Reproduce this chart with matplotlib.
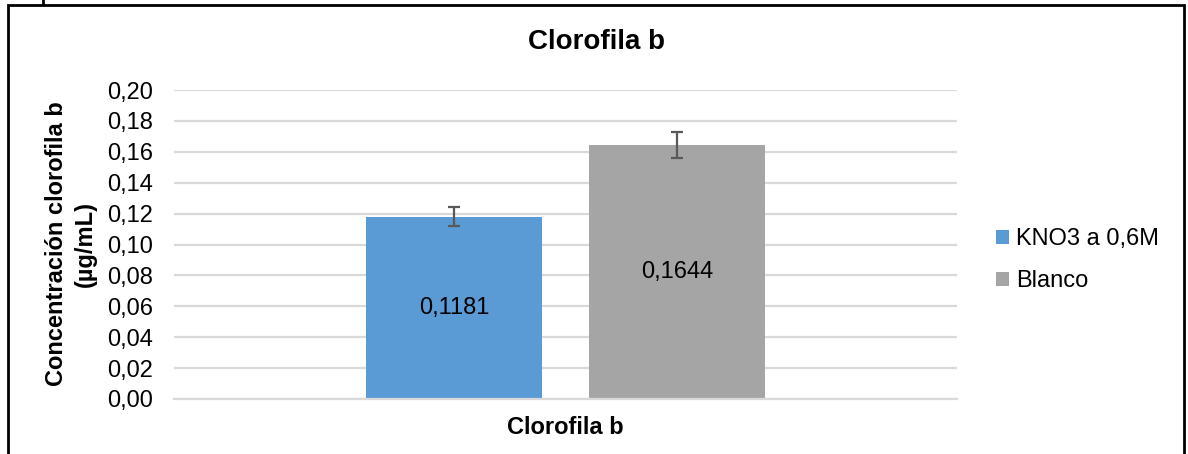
import matplotlib
matplotlib.use('Agg')
import matplotlib.pyplot as plt
from matplotlib.patches import Patch, Rectangle
from matplotlib.lines import Line2D

# Daten
series = ['KNO3 a 0,6M', 'Blanco']
values = [0.1181, 0.1644]
errors = [0.0061, 0.0083]
value_labels = ['0,1181', '0,1644']
colors = ['#5B9BD5', '#A5A5A5']
y_ticks = [0.00, 0.02, 0.04, 0.06, 0.08, 0.10, 0.12, 0.14, 0.16, 0.18, 0.20]
y_tick_labels = ['0,00', '0,02', '0,04', '0,06', '0,08', '0,10', '0,12', '0,14', '0,16', '0,18', '0,20']

plt.rcParams['font.family'] = ['Liberation Sans', 'DejaVu Sans']

W, H = 1188, 454
fig = plt.figure(figsize=(W / 100, H / 100), dpi=100)
ax = fig.add_axes([174 / W, 55 / H, 783 / W, 309 / H])

# Balken
offsets = [-0.1424, 0.1424]
bar_width = 0.2248
for off, val, err, col, lab, txt in zip(offsets, values, errors, colors, series, value_labels):
    bars = ax.bar(off, val, width=bar_width, color=col, label=lab, zorder=2,
                  yerr=err, error_kw=dict(ecolor='#595959', elinewidth=1.6, capsize=4.5, capthick=1.6, zorder=3))
    ax.bar_label(bars, labels=[txt], label_type='center', fontsize=17, color='#000000')

ax.set_xlim(-0.5, 0.5)
ax.set_ylim(0, 0.20)
ax.set_yticks(y_ticks)
ax.set_yticklabels(y_tick_labels, fontsize=17)
ax.set_xticks([])
ax.tick_params(axis='y', length=0, pad=15)
ax.grid(axis='y', color='#d9d9d9', linewidth=1.6, zorder=0)
ax.set_axisbelow(True)
for s in ['left', 'right', 'top']:
    ax.spines[s].set_visible(False)
ax.spines['bottom'].set_color('#d9d9d9')
ax.spines['bottom'].set_linewidth(1.6)

# Titel und Achsentitel
fig.text(597 / W, 1 - 42 / H, 'Clorofila b', ha='center', va='center', fontsize=20, fontweight='bold')
fig.text(565 / W, 1 - 427 / H, 'Clorofila b', ha='center', va='center', fontsize=17, fontweight='bold')
fig.text(71 / W, 1 - 244 / H, 'Concentración clorofila b\n(µg/mL)', ha='center', va='center',
         rotation=90, fontsize=17, fontweight='bold', multialignment='center', linespacing=1.3)

# Legende
handles = [Patch(facecolor=c, edgecolor='none') for c in colors]
fig.legend(handles, series, loc='upper left', bbox_to_anchor=(996 / W, 1 - 228 / H),
           frameon=False, fontsize=17, handlelength=0.55, handleheight=0.55,
           handletextpad=0.3, labelspacing=0.85, borderaxespad=0, borderpad=0)

# Rahmen
fig.add_artist(Rectangle((8 / W, -0.1), 1176 / W, 0.1 + 449 / H, transform=fig.transFigure,
                         fill=False, edgecolor='black', linewidth=2, clip_on=False))
fig.add_artist(Line2D([43 / W, 43 / W], [1 - 4 / H, 1.0], transform=fig.transFigure, color='black', linewidth=2))

fig.savefig('out.png', dpi=100)
